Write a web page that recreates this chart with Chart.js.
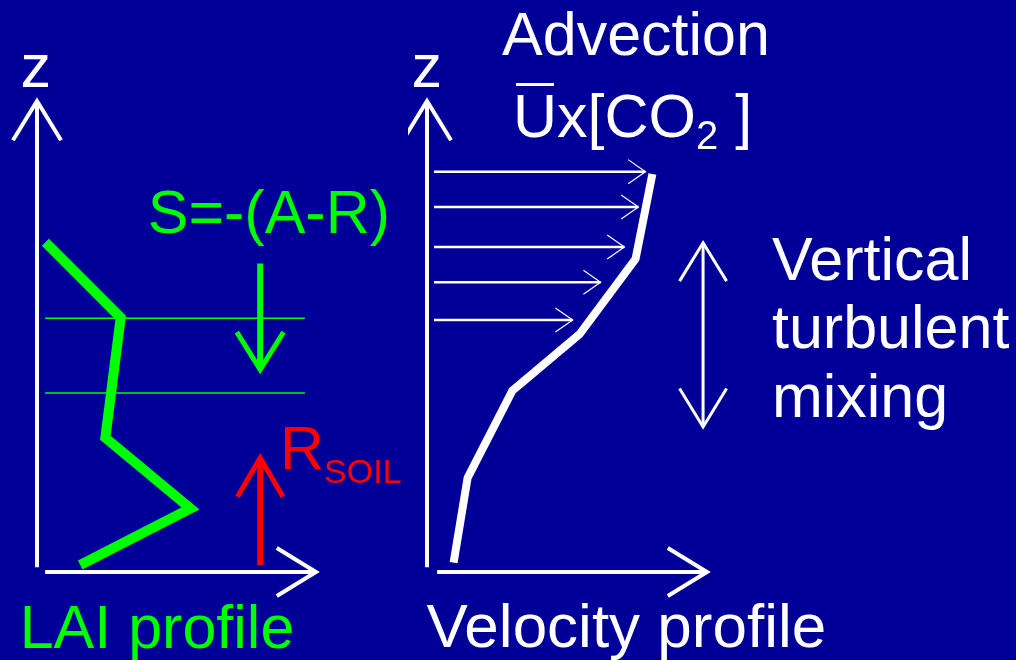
<!DOCTYPE html>
<html>
<head>
<meta charset="utf-8">
<script src="https://cdn.jsdelivr.net/npm/chart.js@4.4.1/dist/chart.umd.min.js"></script>
<style>
  html, body { margin: 0; padding: 0; background: #000099; }
  #wrap { position: relative; width: 1016px; height: 660px; background: #000099; overflow: hidden; }
  canvas { position: absolute; top: 0; }
  .lbl { position: absolute; white-space: pre; margin: 0; padding: 0;
         font-family: "Liberation Sans", Arial, Helvetica, sans-serif; }
  .bar { position: absolute; background: currentColor; }
</style>
</head>
<body>
<div id="wrap">
  <canvas id="lai" width="408" height="660" style="left:0"></canvas>
  <canvas id="vel" width="608" height="660" style="left:408px"></canvas>
</div>
<script>
// canopy sketch: leaf area profile (left) and wind profile (right)
// both panels use arbitrary units 0..10 on each axis

// left panel - leaf area density vs height
const laiLeaf = [0.3, 3.0, 2.45, 5.5, 1.55];
const laiZ = [7.0, 5.4, 2.85, 1.35, 0.15];
const layerZ = [5.39, 3.8];           // canopy layer boundaries
const sourceZ = [6.55, 4.3];          // S=-(A-R) arrow, top -> bottom
const soilZ = [0.15, 2.42];           // R_soil arrow, bottom -> top
const fluxX = 8.0;

// right panel - mean wind speed vs height
const windU = [8.05, 7.45, 5.45, 3.05, 1.45, 0.95];
const windZ = [8.45, 6.65, 5.05, 3.85, 2.0, 0.2];
const advZ = [8.5, 7.75, 6.9, 6.15, 5.35];
const advU = [7.8, 7.55, 7.05, 6.2, 5.2];
const mixZ = [3.08, 6.99];            // vertical mixing arrow
const mixX = 9.86;

const FONT = '"Liberation Sans", Arial, Helvetica, sans-serif';
const WHITE = '#ffffff', GREEN = '#00ff00', RED = '#ff0000';
const BIG = 61;

function seg(xs, ys, color, width, extra) {
  return Object.assign({
    data: xs.map((x, i) => ({ x: x, y: ys[i] })),
    showLine: true,
    borderColor: color,
    borderWidth: width,
    pointRadius: 0,
    pointHoverRadius: 0,
    tension: 0,
    clip: false,
    borderJoinStyle: 'miter',
    borderCapStyle: 'butt'
  }, extra || {});
}

// arrow heads drawn at line ends, in pixel space after the scales
const arrowHeads = {
  id: 'arrowHeads',
  afterDatasetsDraw(chart) {
    const ctx = chart.ctx;
    chart.data.datasets.forEach((ds, i) => {
      const h = ds.head;
      if (!h) return;
      const pts = chart.getDatasetMeta(i).data;
      const ends = [];
      if (h.end) ends.push([pts[pts.length - 2], pts[pts.length - 1]]);
      if (h.start) ends.push([pts[1], pts[0]]);
      ctx.save();
      ctx.strokeStyle = ds.borderColor;
      ctx.lineWidth = h.width;
      ctx.lineJoin = 'miter';
      ctx.lineCap = 'butt';
      ends.forEach(([a, b]) => {
        const ang = Math.atan2(b.y - a.y, b.x - a.x);
        ctx.beginPath();
        ctx.moveTo(b.x - h.len * Math.cos(ang - h.spread), b.y - h.len * Math.sin(ang - h.spread));
        ctx.lineTo(b.x, b.y);
        ctx.lineTo(b.x - h.len * Math.cos(ang + h.spread), b.y - h.len * Math.sin(ang + h.spread));
        ctx.stroke();
      });
      ctx.restore();
    });
  }
};

function panel(id, datasets, pad) {
  return new Chart(document.getElementById(id), {
    type: 'scatter',
    data: { datasets: datasets },
    options: {
      responsive: false,
      animation: false,
      events: [],
      layout: { padding: pad },
      scales: {
        x: { type: 'linear', min: 0, max: 10, display: false },
        y: { type: 'linear', min: 0, max: 10, display: false }
      },
      plugins: {
        legend: { display: false },
        tooltip: { enabled: false }
      }
    },
    plugins: [arrowHeads]
  });
}

// html labels, anchored (left/center, baseline) at a data point of the chart
const measure = document.createElement('canvas').getContext('2d');
function placeText(chart, items) {
  const wrap = document.getElementById('wrap');
  const off = chart.canvas.offsetLeft;
  items.forEach(t => {
    const base = t.runs[0].size;
    measure.font = base + 'px ' + FONT;
    const m = measure.measureText('Hg');
    const asc = m.fontBoundingBoxAscent, desc = m.fontBoundingBoxDescent;
    const div = document.createElement('div');
    div.className = 'lbl';
    div.style.color = t.color;
    div.style.fontSize = base + 'px';
    div.style.lineHeight = (asc + desc) + 'px';
    t.runs.forEach(r => {
      const s = document.createElement('span');
      s.textContent = r.text;
      s.style.fontSize = r.size + 'px';
      if (r.shift) {
        s.style.position = 'relative';
        s.style.top = r.shift + 'px';
        s.style.lineHeight = '0';
      }
      if (r.overbar) {
        s.style.position = 'relative';
        s.style.display = 'inline-block';
        const bar = document.createElement('div');
        bar.className = 'bar';
        bar.style.left = '7%';
        bar.style.right = '8%';
        bar.style.height = '2.5px';
        bar.style.top = (asc - 0.88 * r.size) + 'px';
        s.appendChild(bar);
      }
      div.appendChild(s);
    });
    wrap.appendChild(div);
    const x = off + chart.scales.x.getPixelForValue(t.x);
    const y = chart.scales.y.getPixelForValue(t.y);
    div.style.top = (y - asc) + 'px';
    div.style.left = (t.align === 'center' ? x - div.offsetWidth / 2 : x) + 'px';
  });
}

const axisHead = { end: true, len: 46, spread: 0.55, width: 4 };

const laiChart = panel('lai', [
  seg([0, 0], [0.1, 10], WHITE, 4, { head: axisHead }),
  seg([0.29, 10], [0, 0], WHITE, 4, { head: axisHead }),
  seg([0.29, 9.6], [layerZ[0], layerZ[0]], GREEN, 1.5),
  seg([0.29, 9.6], [layerZ[1], layerZ[1]], GREEN, 1.5),
  seg(laiLeaf, laiZ, GREEN, 10),
  seg([fluxX, fluxX], sourceZ, GREEN, 6, { head: { end: true, len: 44, spread: 0.56, width: 5 } }),
  seg([fluxX, fluxX], soilZ, RED, 6, { head: { end: true, len: 45, spread: 0.53, width: 5 } })
], { left: 37, right: 92, top: 101, bottom: 88 });

const advArrows = advZ.map((z, i) =>
  seg([0.25, advU[i]], [z, z], WHITE, 2.5, { head: { end: true, len: 21, spread: 0.61, width: 1.2 } }));

const velChart = panel('vel', [
  seg([0, 0], [0.1, 10], WHITE, 4, { head: axisHead }),
  seg([0.36, 10], [0, 0], WHITE, 4, { head: axisHead }),
  seg(windU, windZ, WHITE, 8, { borderJoinStyle: 'bevel' }),
  ...advArrows,
  seg([mixX, mixX], mixZ, WHITE, 3, { head: { start: true, end: true, len: 45, spread: 0.55, width: 3 } })
], { left: 19, right: 309, top: 101, bottom: 88 });

placeText(laiChart, [
  { x: -0.04, y: 10.3, align: 'center', color: WHITE, runs: [{ text: 'z', size: BIG }] },
  { x: 3.97, y: 7.2, color: GREEN, runs: [{ text: 'S=-(A-R)', size: BIG }] },
  { x: 8.71, y: 2.19, color: RED, runs: [{ text: 'R', size: BIG }, { text: 'SOIL', size: 34, shift: 14 }] },
  { x: -0.62, y: -1.61, color: GREEN, runs: [{ text: 'LAI profile', size: BIG }] }
]);

placeText(velChart, [
  { x: 0, y: 10.3, align: 'center', color: WHITE, runs: [{ text: 'z', size: BIG }] },
  { x: 2.68, y: 10.98, color: WHITE, runs: [{ text: 'Advection', size: BIG }] },
  { x: 3.07, y: 9.24, color: WHITE, runs: [
    { text: 'U', size: BIG, overbar: true }, { text: 'x[CO', size: BIG },
    { text: '2', size: 40, shift: 12 }, { text: ' ]', size: BIG }] },
  { x: 12.32, y: 6.2, color: WHITE, runs: [{ text: 'Vertical', size: BIG }] },
  { x: 12.32, y: 4.76, color: WHITE, runs: [{ text: 'turbulent', size: BIG }] },
  { x: 12.32, y: 3.29, color: WHITE, runs: [{ text: 'mixing', size: BIG }] },
  { x: -0.02, y: -1.59, color: WHITE, runs: [{ text: 'Velocity profile', size: 62 }] }
]);
</script>
</body>
</html>
